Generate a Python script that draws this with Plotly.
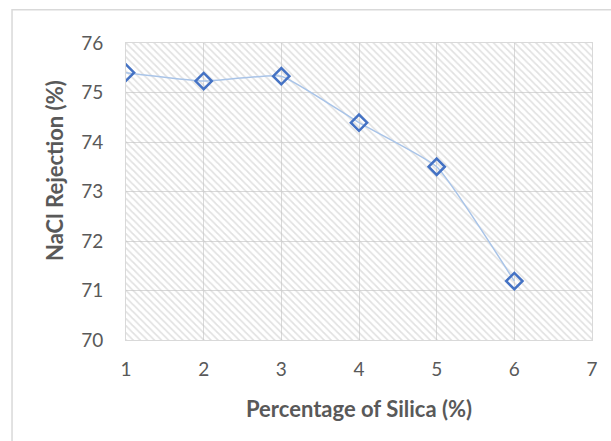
import plotly.graph_objects as go

# Silica loading (%) vs NaCl rejection (%)
silica_pct = [1, 2, 3, 4, 5, 6]
nacl_rejection = [75.40, 75.23, 75.33, 74.39, 73.50, 71.19]

x_range = [1, 7]
y_range = [70, 76]
x_ticks = [1, 2, 3, 4, 5, 6, 7]
y_ticks = [70, 71, 72, 73, 74, 75, 76]

x_title = "Percentage of Silica (%)"
y_title = "NaCl Rejection (%)"

text_color = "#595959"
grid_color = "#d9d9d9"
font_family = "Lato, 'Open Sans', sans-serif"

fig = go.Figure()

# Hatched background filling the plot area
fig.add_trace(go.Scatter(
    x=[x_range[0], x_range[1], x_range[1], x_range[0], x_range[0]],
    y=[y_range[0], y_range[0], y_range[1], y_range[1], y_range[0]],
    mode="lines",
    line=dict(width=0),
    fill="toself",
    fillcolor="rgba(0,0,0,0)",
    fillpattern=dict(shape="\\", fgcolor="#c4c4c4", bgcolor="rgba(0,0,0,0)",
                     size=5, solidity=0.34),
    hoverinfo="skip",
    showlegend=False,
))

fig.add_trace(go.Scatter(
    x=silica_pct,
    y=nacl_rejection,
    mode="lines+markers",
    line=dict(color="#a9c4e8", width=1.5, shape="spline", smoothing=0.4),
    marker=dict(symbol="diamond-open", size=12.5, color="#4472c4",
                line=dict(color="#4472c4", width=2.5)),
    showlegend=False,
))

fig.update_layout(
    width=611, height=441,
    margin=dict(l=126, r=19, t=43, b=101, autoexpand=False),
    paper_bgcolor="white",
    plot_bgcolor="white",
    font=dict(family=font_family, color=text_color, size=19),
    shapes=[dict(type="rect", xref="paper", yref="paper",
                 x0=-0.2446, x1=1.06, y0=-0.37, y1=1.112,
                 line=dict(color="#d9d9d9", width=1.5), layer="below")],
    annotations=[
        dict(text=f"<b>{x_title}</b>", xref="paper", yref="paper",
             x=0.5, y=-0.229, xanchor="center", yanchor="middle",
             showarrow=False, font=dict(size=22, color=text_color)),
        dict(text=f"<b>{y_title}</b>", xref="paper", yref="paper",
             x=-0.1545, y=0.569, xanchor="center", yanchor="middle",
             textangle=-90, showarrow=False,
             font=dict(size=22, color=text_color)),
    ],
)

fig.update_xaxes(
    range=x_range, tickvals=x_ticks, showgrid=True, gridcolor=grid_color,
    gridwidth=1.2, zeroline=False, showline=True, linecolor=grid_color,
    mirror=True, ticks="", ticklabelstandoff=12,
    tickfont=dict(size=19, color=text_color),
)
fig.update_yaxes(
    range=y_range, tickvals=y_ticks, showgrid=True, gridcolor=grid_color,
    gridwidth=1.2, zeroline=False, showline=True, linecolor=grid_color,
    mirror=True, ticks="", ticklabelstandoff=18,
    tickfont=dict(size=19, color=text_color),
)

fig.write_html("out.html")
